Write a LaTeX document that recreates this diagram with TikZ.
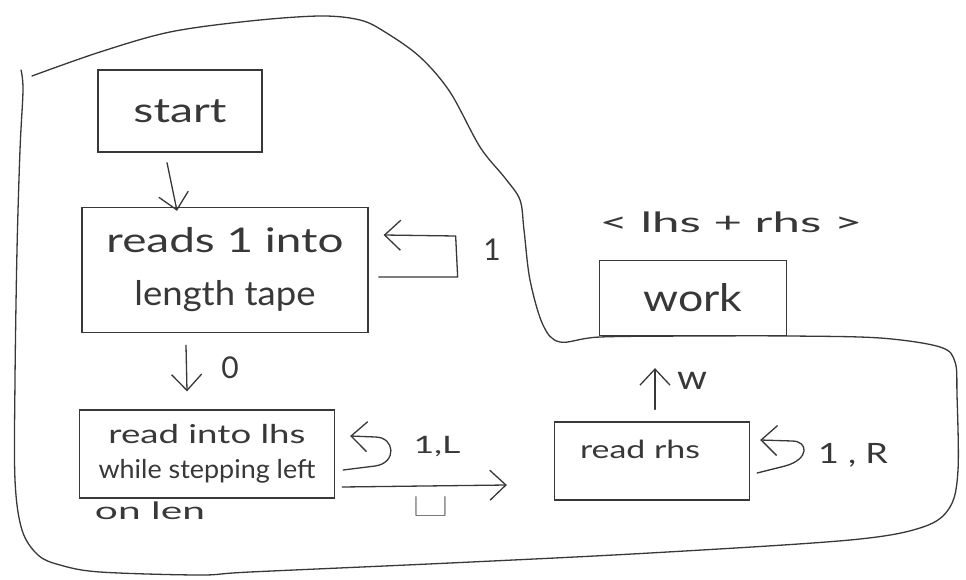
\documentclass[tikz,border=0pt]{standalone}
\usepackage{fontspec}
\usepackage{graphicx}
\setmainfont{Lato}
\newfontfamily\lmr{Latin Modern Roman}
\usetikzlibrary{arrows.meta,calc}
\definecolor{ink}{HTML}{383838}
\newcommand\hw[2]{\resizebox{#1pt}{\height}{#2}}
\newcommand\fs[1]{\fontsize{#1}{#1}\selectfont}
\tikzset{
  box/.style={draw=ink, line width=1.3pt, inner sep=0pt, text=ink, align=center},
  lbl/.style={text=ink, inner sep=0pt},
  arr/.style={draw=ink, line width=1.3pt, line cap=round, line join=round,
              -{Straight Barb[length=16pt,width=30pt,line width=1.3pt]}},
  outline/.style={draw=ink, line width=1.3pt, line cap=round}
}
\begin{document}
\begin{tikzpicture}[x=1pt,y=-1pt]
\fill[white] (0,0) rectangle (966,580);
\useasboundingbox (0,0) rectangle (966,580);

% big outline
\draw[outline] plot[smooth, tension=0.55] coordinates {
 (32,76) (100,52) (170,32) (250,21) (320,16) (360,20) (385,32) (420,57) (450,92)
 (480,147) (505,178) (520,200) (524,230) (530,280) (543,325) (560,342)
 (600,337) (700,336) (790,336) (880,338) (940,347) (955,362) (957,395)
 (958,470) (950,507) (923,527) (850,540) (650,553) (450,563) (250,572)
 (200,575) (100,572) (60,565) (38,555) (22,530) (15,480) (15,380) (17,250)
 (20,150) (23,90) (21,70)};

% boxes
\node[box, minimum width=164pt, minimum height=82pt, font=\fs{34}] (start) at (180,111) {\hw{93}{start}};
\node[box, minimum width=286pt, minimum height=125pt, font=\fontsize{34}{53}\selectfont] (read1) at (225,270)
  {\hw{237}{reads 1 into}\\\hw{181}{length tape}};
\node[box, minimum width=255pt, minimum height=88pt, font=\fontsize{26}{35}\selectfont] (lhs) at (207,454)
  {\hw{197}{read into lhs}\\\hw{217}{while stepping left}};
\node[box, minimum width=195pt, minimum height=78pt] (rhs) at (652,461) {};
\node[lbl, font=\fs{25}] (rhstext) at (640,449) {\hw{120}{read rhs}};
\node[box, minimum width=187pt, minimum height=75pt, font=\fs{38}] (work) at (693,298) {\hw{99}{work}};

% free texts
\node[lbl, font=\fs{24}] (onlen) at (150,511) {\hw{110}{on len}};
\node[lbl, font=\fs{28}] (sum) at (731,222) {\hw{263}{< lhs + rhs >}};

% connectors
\draw[arr] ($(start.south)+(-13,10)$) -- ($(read1.north)+(-48,4)$);
\draw[arr] ($(read1.south)+(-39,12)$) -- ($(lhs.north)+(-20,-18)$);
\draw[arr] ($(read1.east)+(10,7)$) -- ++(79,0) -- ++(-2,-41) -- ($(read1.east)+(15,-35)$);
\draw[arr] ($(lhs.east)+(8,16)$) -- ($(lhs.east)+(40,12)$)
  .. controls ($(lhs.east)+(62,9)$) and ($(lhs.east)+(60,-17)$) .. ($(lhs.east)+(40,-17)$)
  -- ($(lhs.east)+(15,-18)$);
\draw[arr] ($(lhs.east)+(7,33)$) -- ($(rhs.west)+(-47,24)$);
\draw[arr] ($(rhs.east)+(7,12)$) -- ($(rhs.east)+(35,5)$)
  .. controls ($(rhs.east)+(60,-2)$) and ($(rhs.east)+(58,-20)$) .. ($(rhs.east)+(42,-20)$)
  -- ($(rhs.east)+(10,-21)$);
\draw[arr] ($(rhs.north)+(3,-12)$) -- ($(work.south)+(-38,32)$);

% connector labels
\node[lbl, font=\fs{30}] (l1) at (492,250) {1};
\node[lbl, font=\fs{30}] (l0) at (230,368) {0};
\node[lbl, font=\fs{24}] (l1L) at (437,447) {\hw{47}{1,L}};
\node[lbl, font=\lmr\fs{40}] (lblank) at (431,506) {\resizebox{35pt}{14pt}{␣}};
\node[lbl, font=\fs{34}] (lw) at (692,381) {\hw{30}{w}};
\node[lbl, font=\fs{28}] (l1R) at (853,455) {\hw{70}{1 , R}};
\end{tikzpicture}
\end{document}
